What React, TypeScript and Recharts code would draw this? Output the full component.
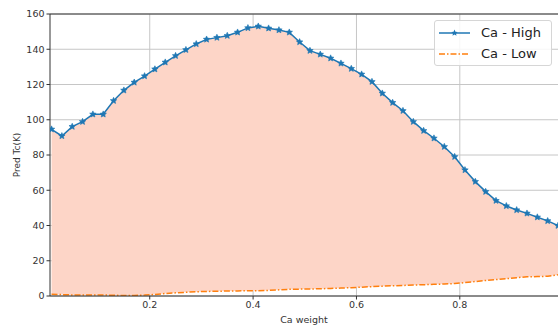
import React from 'react';
import {
  ComposedChart,
  Area,
  Line,
  XAxis,
  YAxis,
  CartesianGrid,
  ReferenceLine,
} from 'recharts';

const weights = [
  0.01, 0.03, 0.05, 0.07, 0.09, 0.11, 0.13, 0.15, 0.17, 0.19,
  0.21, 0.23, 0.25, 0.27, 0.29, 0.31, 0.33, 0.35, 0.37, 0.39,
  0.41, 0.43, 0.45, 0.47, 0.49, 0.51, 0.53, 0.55, 0.57, 0.59,
  0.61, 0.63, 0.65, 0.67, 0.69, 0.71, 0.73, 0.75, 0.77, 0.79,
  0.81, 0.83, 0.85, 0.87, 0.89, 0.91, 0.93, 0.95, 0.97, 0.99,
];

const caHigh = [
  94.6, 90.8, 96.1, 98.9, 103.1, 103.1, 110.8, 116.7, 121.2, 124.8,
  128.7, 132.6, 136.3, 139.7, 143.0, 145.6, 146.6, 147.7, 149.6, 152.1,
  153.0, 151.9, 150.9, 149.6, 144.1, 139.2, 137.1, 134.9, 132.0, 129.0,
  125.8, 121.6, 115.0, 109.7, 105.1, 98.9, 93.8, 89.5, 84.7, 79.0,
  71.5, 64.9, 59.2, 54.1, 51.1, 48.8, 46.9, 44.7, 42.6, 39.9,
];

const caLow = [
  1.0, 0.8, 0.6, 0.5, 0.6, 0.6, 0.4, 0.3, 0.3, 0.5,
  0.9, 1.4, 1.8, 2.1, 2.4, 2.6, 2.7, 2.8, 2.9, 3.0,
  3.0, 3.2, 3.5, 3.8, 3.9, 4.0, 4.1, 4.3, 4.5, 4.7,
  5.0, 5.3, 5.6, 5.8, 6.0, 6.2, 6.4, 6.6, 6.8, 7.1,
  7.6, 8.2, 8.8, 9.3, 9.8, 10.4, 10.9, 11.0, 11.2, 12.0,
];

const xTicks = [0.2, 0.4, 0.6, 0.8];
const yTicks = [0, 20, 40, 60, 80, 100, 120, 140, 160];
const seriesNames = ['Ca - High', 'Ca - Low'];

const data = weights.map((w, i) => ({
  w,
  high: caHigh[i],
  low: caLow[i],
  band: [caLow[i], caHigh[i]],
}));

const BLUE = '#1f77b4';
const ORANGE = '#ff7f0e';
const FONT = 'DejaVu Sans, sans-serif';

function starPoints(cx: number, cy: number, ro: number, ri: number) {
  const pts: string[] = [];
  for (let k = 0; k < 10; k++) {
    const r = k % 2 === 0 ? ro : ri;
    const a = -Math.PI / 2 + (k * Math.PI) / 5;
    pts.push(`${cx + r * Math.cos(a)},${cy + r * Math.sin(a)}`);
  }
  return pts.join(' ');
}

const StarDot = (props: any) => {
  const { cx, cy, index } = props;
  if (cx == null || cy == null) return <g key={`s${index}`} />;
  return (
    <polygon
      key={`s${index}`}
      points={starPoints(cx, cy, 3.4, 1.6)}
      fill={BLUE}
      stroke={BLUE}
      strokeWidth={0.6}
    />
  );
};

const LegendBox = () => (
  <div
    style={{
      position: 'absolute',
      left: 434,
      top: 20,
      width: 118,
      height: 46,
      boxSizing: 'border-box',
      border: '1px solid #d6d6d6',
      borderRadius: 3,
      background: 'rgba(255,255,255,0.85)',
      fontFamily: FONT,
      fontSize: 13,
      color: '#222',
    }}
  >
    <svg width={40} height={46} style={{ position: 'absolute', left: 0, top: 0 }}>
      <line x1={4} y1={12} x2={35} y2={12} stroke={BLUE} strokeWidth={1.5} />
      <polygon points={starPoints(19.5, 12, 3.4, 1.6)} fill={BLUE} />
      <line
        x1={4}
        y1={33}
        x2={35}
        y2={33}
        stroke={ORANGE}
        strokeWidth={1.5}
        strokeDasharray="6 2 1.5 2"
      />
    </svg>
    <div style={{ position: 'absolute', left: 46, top: 3, lineHeight: '18px' }}>{seriesNames[0]}</div>
    <div style={{ position: 'absolute', left: 46, top: 24, lineHeight: '18px' }}>{seriesNames[1]}</div>
  </div>
);

export default function App() {
  return (
    <div style={{ position: 'absolute', left: 0, top: 0, width: 558, height: 326, background: '#fff' }}>
      <ComposedChart
        width={558}
        height={326}
        data={data}
        margin={{ top: 14, right: 0, bottom: 0, left: 0 }}
      >
        <CartesianGrid stroke="#c6c6c6" strokeWidth={1} horizontalValues={yTicks} verticalValues={xTicks} />
        <XAxis
          dataKey="w"
          type="number"
          domain={[0.007, 0.99]}
          ticks={xTicks}
          allowDataOverflow
          height={30}
          tickFormatter={(v: number) => v.toFixed(1)}
          tick={{ fontSize: 9.5, fontFamily: FONT, fill: '#333' }}
          tickSize={3.5}
          tickMargin={2}
          stroke="#333"
          axisLine={{ stroke: '#333', strokeWidth: 1 }}
          label={{
            content: () => (
              <text x={304} y={323} textAnchor="middle" fontSize={9.5} fontFamily={FONT} fill="#333">
                Ca weight
              </text>
            ),
          }}
        />
        <YAxis
          type="number"
          domain={[0, 160]}
          ticks={yTicks}
          allowDataOverflow
          width={50}
          tick={{ fontSize: 9.5, fontFamily: FONT, fill: '#333' }}
          tickSize={3.5}
          tickMargin={2}
          stroke="#333"
          axisLine={{ stroke: '#333', strokeWidth: 1 }}
          label={{
            content: () => (
              <text
                x={17}
                y={155}
                textAnchor="middle"
                fontSize={9}
                fontFamily={FONT}
                fill="#333"
                transform="rotate(-90 17 155)"
                dominantBaseline="middle"
              >
                Pred Tc(K)
              </text>
            ),
          }}
        />
        <ReferenceLine y={160} stroke="#333" strokeWidth={1} />
        <Area
          dataKey="band"
          type="linear"
          stroke="none"
          fill="#fdd5c7"
          fillOpacity={1}
          isAnimationActive={false}
          legendType="none"
        />
        <Line
          dataKey="high"
          name={seriesNames[0]}
          type="linear"
          stroke={BLUE}
          strokeWidth={1.5}
          dot={StarDot}
          activeDot={false}
          isAnimationActive={false}
        />
        <Line
          dataKey="low"
          name={seriesNames[1]}
          type="linear"
          stroke={ORANGE}
          strokeWidth={1.5}
          strokeDasharray="6 2 1.5 2"
          dot={false}
          activeDot={false}
          isAnimationActive={false}
        />
      </ComposedChart>
      <LegendBox />
    </div>
  );
}
